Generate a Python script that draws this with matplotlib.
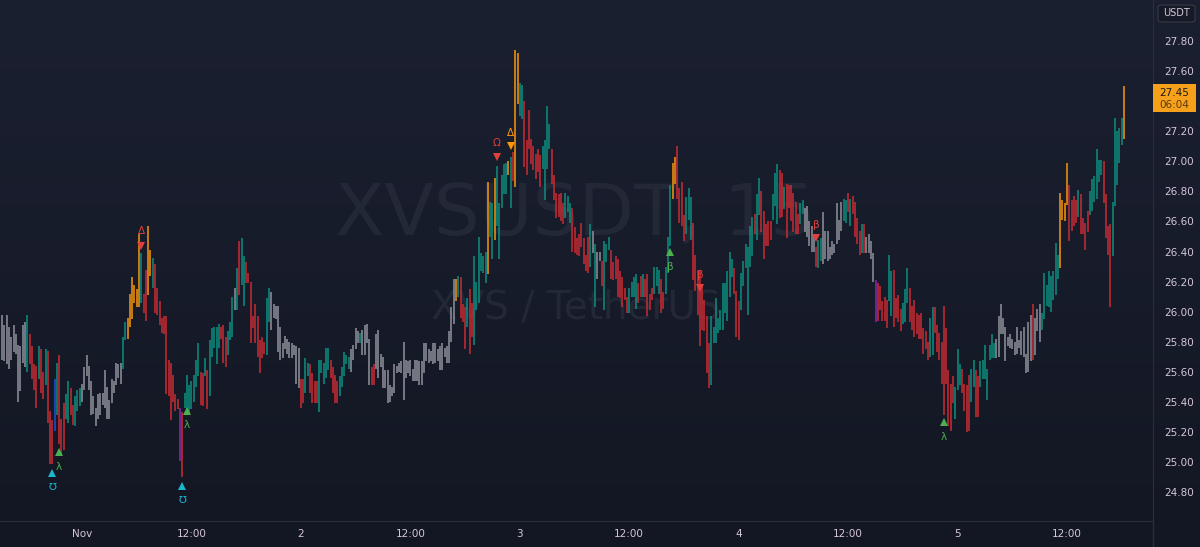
import numpy as np
import matplotlib
matplotlib.use("Agg")
import matplotlib.pyplot as plt
from matplotlib.colors import LinearSegmentedColormap
from matplotlib.patches import FancyBboxPatch, Rectangle
from matplotlib.lines import Line2D

# XVSUSDT 15m bars, index 0 = Nov 1 00:00, first bar = Oct 31 15:15
highs = [
    25.98, 25.91, 25.98, 25.90, 25.83, 25.91, 25.85, 25.78, 25.77, 25.91,
    25.93, 25.98, 25.85, 25.77, 25.65, 25.64, 25.77, 25.75, 25.60, 25.75,
    25.74, 25.34, 25.28, 25.55, 25.66, 25.71, 25.29, 25.39, 25.45, 25.54,
    25.49, 25.38, 25.44, 25.48, 25.49, 25.52, 25.63, 25.71, 25.64, 25.54,
    25.44, 25.36, 25.45, 25.46, 25.46, 25.61, 25.50, 25.41, 25.55, 25.54,
    25.66, 25.65, 25.66, 25.83, 25.93, 25.96, 26.12, 26.23, 26.18, 26.15,
    26.52, 26.39, 26.12, 26.28, 26.57, 26.41, 26.36, 26.32, 26.16, 26.07,
    25.96, 25.97, 25.97, 25.68, 25.66, 25.58, 25.45, 25.42, 25.36, 25.33,
    25.46, 25.58, 25.51, 25.54, 25.58, 25.68, 25.79,
    25.60, 25.59, 25.69, 25.61, 25.81, 25.89, 25.90, 25.90, 25.92, 25.90,
    25.91, 25.83, 25.87, 25.93, 26.10, 26.16, 26.29, 26.47, 26.49, 26.37,
    26.33, 26.26, 26.20, 25.97, 26.05, 25.97, 25.81, 25.83, 25.80, 26.09,
    26.16, 26.13, 26.05, 26.04, 26.04, 25.90, 25.79, 25.84, 25.82, 25.80,
    25.79, 25.78, 25.77, 25.76, 25.55, 25.55, 25.69, 25.66, 25.65, 25.59,
    25.54, 25.54, 25.68, 25.68, 25.66, 25.76, 25.76, 25.68, 25.63, 25.58,
    25.54, 25.57, 25.63, 25.73, 25.71, 25.70, 25.75, 25.78, 25.89, 25.87,
    25.86, 25.88, 25.91, 25.92, 25.82, 25.63, 25.65, 25.85, 25.88, 25.72,
    25.70, 25.61, 25.61,
    25.51, 25.50, 25.65, 25.64, 25.66, 25.67, 25.80, 25.68, 25.67, 25.68,
    25.62, 25.68, 25.68, 25.67, 25.67, 25.79, 25.79, 25.75, 25.74, 25.79,
    25.79, 25.75, 25.77, 25.79, 25.76, 25.77, 25.87, 26.03, 26.22, 26.22,
    26.24, 26.23, 26.05, 26.03, 26.09, 26.15, 26.06, 26.37, 26.20, 26.50,
    26.39, 26.37, 26.40, 26.86, 26.73, 26.72, 26.89, 26.97, 26.72, 26.91,
    26.98, 26.99, 27.00, 27.03, 27.06, 27.74, 27.72, 27.52, 27.51, 27.40,
    27.14, 27.34, 27.15, 27.10, 27.05, 27.08, 27.04, 27.10, 27.14, 27.37,
    27.25, 27.08, 26.91, 26.79, 26.78, 26.79, 26.72, 26.79, 26.77, 26.72,
    26.69, 26.56, 26.49, 26.52, 26.59, 26.49, 26.38, 26.50,
    26.58, 26.54, 26.45, 26.40, 26.40, 26.34, 26.47, 26.45, 26.50, 26.41,
    26.33, 26.37, 26.35, 26.27, 26.23, 26.16, 26.10, 26.16, 26.20, 26.23,
    26.25, 26.19, 26.24, 26.25, 26.22, 26.25, 26.12, 26.16, 26.30, 26.30,
    26.28, 26.22, 26.13, 26.30, 26.50, 26.84, 26.99, 27.03, 27.10, 26.82,
    26.86, 26.64, 26.76, 26.82, 26.76, 26.59, 26.38, 26.28, 26.28, 26.17,
    26.08, 25.97, 25.79, 25.97, 25.90, 26.09, 25.96, 26.01, 26.19, 26.19,
    26.27, 26.40, 26.35, 26.29, 26.14, 26.07, 26.26, 26.34, 26.45, 26.43,
    26.57, 26.63, 26.65, 26.78, 26.89, 26.80, 26.67, 26.58, 26.60, 26.60,
    26.78, 26.92, 26.98, 26.94, 26.92, 26.83, 26.85, 26.84,
    26.84, 26.79, 26.73, 26.65, 26.72, 26.74, 26.69, 26.70, 26.60, 26.57,
    26.52, 26.43, 26.48, 26.49, 26.66, 26.54, 26.54, 26.43, 26.47, 26.45,
    26.72, 26.61, 26.73, 26.75, 26.74, 26.79, 26.75, 26.77, 26.73, 26.62,
    26.54, 26.58, 26.58, 26.50, 26.52, 26.47, 26.39, 26.21, 26.19, 26.17,
    26.07, 26.10, 26.08, 26.38, 26.27, 26.28, 26.09, 26.11, 26.02, 26.06,
    26.15, 26.29, 26.16, 26.04, 26.08, 25.99, 25.98, 25.99, 25.89, 25.87,
    25.80, 25.96, 26.03, 26.03, 25.91, 25.86, 25.80, 26.04, 25.89, 25.61,
    25.52, 25.57, 25.50, 25.75, 25.65, 25.62, 25.52, 25.51, 25.58, 25.62,
    25.68, 25.61, 25.57, 25.67, 25.68, 25.78, 25.62, 25.78,
    25.85, 25.79, 25.82, 25.97, 26.05, 25.96, 25.90, 25.83, 25.85, 25.82,
    25.80, 25.90, 25.81, 25.87, 25.90, 25.72, 25.93, 25.98, 26.05, 25.96,
    26.02, 26.05, 25.99, 26.26, 26.18, 26.27, 26.24, 26.27, 26.46, 26.38,
    26.79, 26.74, 26.72, 26.99, 26.84, 26.74, 26.77, 26.74, 26.81, 26.78,
    26.62, 26.59, 26.67, 26.80, 26.88, 26.90, 27.08, 27.01, 27.01, 27.00,
    26.78, 26.57, 26.58, 26.73, 27.29, 27.20, 27.22, 27.29, 27.50,
]
lows = [
    25.68, 25.67, 25.65, 25.62, 25.68, 25.73, 25.72, 25.40, 25.47, 25.66,
    25.63, 25.60, 25.65, 25.55, 25.48, 25.36, 25.55, 25.46, 25.42, 25.51,
    25.26, 24.99, 24.99, 25.21, 25.31, 25.12, 25.05, 25.08, 25.29, 25.26,
    25.31, 25.25, 25.24, 25.34, 25.37, 25.40, 25.48, 25.57, 25.48, 25.31,
    25.32, 25.24, 25.29, 25.31, 25.38, 25.36, 25.29, 25.29, 25.39, 25.46,
    25.51, 25.56, 25.52, 25.62, 25.81, 25.82, 25.90, 25.95, 26.06, 26.03,
    26.03, 26.06, 25.99, 25.94, 26.11, 26.24, 26.16, 25.99, 25.98, 25.91,
    25.86, 25.85, 25.45, 25.44, 25.28, 25.40, 25.34, 25.35, 25.01, 24.90,
    25.36, 25.35, 25.32, 25.35, 25.40, 25.50, 25.57,
    25.38, 25.37, 25.57, 25.35, 25.44, 25.70, 25.76, 25.65, 25.76, 25.82,
    25.66, 25.63, 25.71, 25.81, 25.83, 26.01, 26.01, 26.11, 26.18, 26.04,
    26.19, 26.19, 25.79, 25.89, 25.79, 25.70, 25.59, 25.69, 25.72, 25.71,
    25.93, 25.88, 25.96, 25.95, 25.73, 25.68, 25.69, 25.75, 25.72, 25.69,
    25.69, 25.71, 25.52, 25.49, 25.36, 25.39, 25.46, 25.57, 25.46, 25.39,
    25.39, 25.39, 25.33, 25.59, 25.52, 25.56, 25.61, 25.56, 25.46, 25.39,
    25.39, 25.44, 25.50, 25.57, 25.65, 25.62, 25.60, 25.68, 25.75, 25.79,
    25.79, 25.71, 25.71, 25.79, 25.51, 25.51, 25.51, 25.62, 25.56, 25.63,
    25.49, 25.49, 25.39,
    25.40, 25.44, 25.46, 25.59, 25.60, 25.59, 25.41, 25.56, 25.59, 25.57,
    25.54, 25.54, 25.54, 25.51, 25.51, 25.59, 25.67, 25.66, 25.67, 25.65,
    25.66, 25.67, 25.61, 25.61, 25.70, 25.66, 25.66, 25.80, 25.92, 26.07,
    26.10, 25.96, 25.93, 25.75, 25.90, 25.72, 25.83, 25.78, 26.01, 26.06,
    26.27, 26.26, 26.19, 26.25, 26.50, 26.35, 26.48, 26.57, 26.35, 26.69,
    26.78, 26.78, 26.91, 26.69, 26.87, 26.83, 27.38, 27.30, 27.28, 26.96,
    26.91, 27.08, 26.98, 26.94, 26.88, 26.93, 26.83, 26.95, 26.74, 26.95,
    27.08, 26.85, 26.74, 26.62, 26.63, 26.60, 26.58, 26.62, 26.66, 26.59,
    26.40, 26.39, 26.38, 26.37, 26.43, 26.32, 26.27, 26.26,
    26.30, 26.39, 26.03, 26.22, 26.34, 26.17, 26.01, 26.33, 26.41, 26.22,
    26.21, 26.22, 26.10, 26.09, 26.03, 26.08, 25.99, 25.99, 26.10, 26.10,
    26.02, 26.06, 26.10, 26.10, 26.10, 25.97, 26.01, 26.08, 26.12, 26.17,
    26.12, 25.99, 26.02, 26.12, 26.26, 26.44, 26.75, 26.85, 26.75, 26.59,
    26.57, 26.47, 26.52, 26.61, 26.48, 26.21, 26.14, 25.98, 25.77, 25.88,
    25.87, 25.59, 25.49, 25.51, 25.79, 25.79, 25.86, 25.88, 25.88, 25.99,
    25.94, 26.10, 26.23, 26.12, 25.83, 25.81, 26.01, 26.17, 26.29, 25.98,
    26.30, 26.37, 26.52, 26.48, 26.64, 26.53, 26.35, 26.44, 26.44, 26.48,
    26.61, 26.70, 26.58, 26.62, 26.63, 26.68, 26.49, 26.69,
    26.60, 26.53, 26.52, 26.52, 26.58, 26.65, 26.53, 26.50, 26.44, 26.40,
    26.40, 26.30, 26.29, 26.34, 26.32, 26.35, 26.34, 26.35, 26.38, 26.39,
    26.45, 26.48, 26.54, 26.60, 26.59, 26.66, 26.57, 26.65, 26.50, 26.45,
    26.38, 26.39, 26.39, 26.39, 26.39, 26.35, 26.20, 25.93, 25.94, 26.01,
    25.94, 25.94, 25.89, 26.07, 25.97, 25.90, 25.96, 25.93, 25.87, 25.92,
    25.93, 26.06, 25.93, 25.88, 25.83, 25.85, 25.82, 25.82, 25.72, 25.75,
    25.68, 25.70, 25.71, 25.86, 25.73, 25.68, 25.52, 25.31, 25.52, 25.24,
    25.21, 25.39, 25.29, 25.48, 25.51, 25.46, 25.34, 25.20, 25.21, 25.40,
    25.50, 25.30, 25.30, 25.50, 25.55, 25.55, 25.41, 25.68,
    25.69, 25.69, 25.69, 25.70, 25.85, 25.85, 25.67, 25.77, 25.76, 25.75,
    25.71, 25.72, 25.76, 25.71, 25.70, 25.59, 25.60, 25.67, 25.68, 25.71,
    25.87, 25.80, 25.88, 25.95, 26.04, 26.03, 26.00, 26.08, 26.11, 26.22,
    26.29, 26.61, 26.60, 26.71, 26.47, 26.54, 26.57, 26.59, 26.63, 26.52,
    26.52, 26.41, 26.53, 26.64, 26.67, 26.73, 26.75, 26.86, 26.91, 26.72,
    26.49, 26.38, 26.03, 26.37, 26.70, 26.84, 26.99, 27.11, 27.15,
]
# g=neutral, t=up, r=down, o=extreme, p/b=special
bar_colors = (
    "ggggggggggg" "trrrrtrrtrrrbtrrrttrrttt" "gggggggggggggggggg" "tt" "oooooo"
    "t" "rr" "oo" "t" "rrrrrrrrrrr" "p" "r" "ttttttt"
    "rrtr" "ttttt" "rrr" "ttt" "g" "t" "r" "tt" "rrrrrrrrr" "tt" "ggggggggggggg"
    "rr" "tt" "rrrr" "ttttt" "rrrr" "ttttt" "gggg" "t" "gggg" "rr" "gggggg"
    "ggggggggggggggggggggggggggggg" "o" "t" "rrr" "t" "rr" "tttttt" "o" "tt" "o"
    "ttttt" "o" "t" "r" "oo" "tt" "rrrrrrrr" "tttt" "rrrrrr" "ttt" "rrrrrrrr"
    "tgtggrttt" "rrrrrrrr" "tttt" "rr" "t" "rrrr" "ttt" "rr" "ttt" "oo" "rrrr"
    "ttt" "rrrrrrrr" "tttttttttt" "rrr" "tttttt" "r" "tt" "rrrrr" "ttt" "rr" "t" "rr"
    "rrrr" "tt" "ggggg" "r" "tt" "ggggggggg" "tt" "r" "t" "rrrr" "t" "r" "gggg" "p"
    "rrrrr" "tt" "rrrr" "ttt" "rrrrrrrrr" "tt" "rrrrrrrrr" "ttt" "rrrr" "tt" "rr" "ttttt"
    "tt" "gggggggggggggggg" "r" "ggg" "tttttttt" "oooo" "rrrr" "t" "rrrr" "tttttt"
    "rrrr" "ttttt" "o"
)
first_bar = -35

tick_pos = [0, 48, 96, 144, 192, 240, 288, 336, 384, 432]
tick_text = ["Nov", "12:00", "2", "12:00", "3", "12:00", "4", "12:00", "5", "12:00"]
price_ticks = [24.8, 25.0, 25.2, 25.4, 25.6, 25.8, 26.0, 26.2, 26.4, 26.6, 26.8, 27.0, 27.2, 27.6, 27.8]
last_price = 27.45
countdown = "06:04"

# signal markers (bar index, marker price, label price)
sig_bar = [-13, -10, 26, 44, 46, 182, 188, 258, 271, 322, 378]
sig_price = [24.93, 25.07, 26.44, 24.84, 25.34, 27.03, 27.10, 26.40, 26.16, 26.49, 25.27]
sig_text_price = [24.835, 24.97, 26.535, 24.745, 25.25, 27.12, 27.185, 26.30, 26.245, 26.575, 25.17]
sig_marker = ["^", "^", "v", "^", "^", "v", "v", "^", "v", "v", "^"]
sig_label = ["\u2127", "λ", "Δ", "\u2127", "λ", "Ω", "Δ", "β", "β", "β", "λ"]
sig_kind = ["c", "g", "r", "c", "g", "r", "o", "g", "r", "r", "g"]

palette = {"g": "#8b8e98", "t": "#0d8a7b", "r": "#c42b33", "o": "#f0920f",
           "p": "#8e24aa", "b": "#1e4fd8"}
sig_palette = {"c": "#1ab7cf", "g": "#4caf50", "r": "#e0403c", "o": "#ff9800"}
label_col = "#d5c6d8"
line_col = "#2a2e3b"

W, H = 1200, 547
fig = plt.figure(figsize=(W / 100, H / 100), dpi=100)

bg = fig.add_axes([0, 0, 1, 1], zorder=-10)
grad = np.linspace(0, 1, 256).reshape(-1, 1)
cmap = LinearSegmentedColormap.from_list("bg", ["#1b2031", "#131723"])
bg.imshow(grad, aspect="auto", cmap=cmap, extent=[0, 1, 0, 1])
bg.axis("off")

ax = fig.add_axes([0, 26 / H, 1153 / W, 521 / H])
ax.patch.set_alpha(0)

x = np.arange(first_bar, first_bar + len(highs))
cols = [palette[c] for c in bar_colors]
ax.vlines(x, lows, highs, colors=cols, linewidth=1.15, zorder=3)

for b, p, tp, m, lab, k in zip(sig_bar, sig_price, sig_text_price, sig_marker, sig_label, sig_kind):
    c = sig_palette[k]
    ax.plot(b, p, marker=m, color=c, markersize=6, markeredgewidth=0, zorder=5)
    ax.text(b, tp, lab, color=c, fontsize=7.5, ha="center", va="center", zorder=5)

ax.text(0.499, 0.587, "XVSUSDT, 15", transform=ax.transAxes, fontsize=52,
        color="#232837", ha="center", va="center", zorder=1)
ax.text(0.499, 0.409, "XVS / TetherUS", transform=ax.transAxes, fontsize=28,
        color="#232837", ha="center", va="center", zorder=1)

ax.set_xlim(-35.96, 469.7)
ax.set_ylim(24.6085, 28.0726)

ax.set_xticks(tick_pos)
ax.set_xticklabels(tick_text)
ax.set_yticks(price_ticks)
ax.set_yticklabels([f"{v:.2f}" for v in price_ticks])
ax.yaxis.tick_right()
ax.tick_params(axis="y", length=0, pad=8, labelsize=7.5, labelcolor=label_col)
ax.tick_params(axis="x", length=0, pad=6, labelsize=7.5, labelcolor=label_col)
for s in ["top", "left"]:
    ax.spines[s].set_visible(False)
ax.spines["right"].set_color(line_col)
ax.spines["bottom"].set_color(line_col)
ax.grid(False)

# divider in the bottom-right corner
fig.add_artist(Line2D([1153 / W, 1153 / W], [0, 26 / H], color=line_col, lw=1))

# last price tag
fig.add_artist(Rectangle((1153 / W, 1 - 112 / H), 43 / W, 28 / H,
                         facecolor="#f7a11a", edgecolor="none"))
fig.text(1174.5 / W, 1 - 93 / H, f"{last_price:.2f}", color="#1a1a1a",
         fontsize=7.5, ha="center", va="center")
fig.text(1174.5 / W, 1 - 105 / H, countdown, color="#5a3a10",
         fontsize=7.5, ha="center", va="center")

# currency box
fig.add_artist(FancyBboxPatch((1158 / W, 1 - 22 / H), 37 / W, 17 / H,
                              boxstyle="round,pad=0,rounding_size=0.004",
                              facecolor="#161a26", edgecolor="#363a47", lw=0.8))
fig.text(1176.5 / W, 1 - 13.5 / H, "USDT", color=label_col, fontsize=7,
         ha="center", va="center")

fig.savefig("out.png", dpi=100, facecolor=fig.get_facecolor())
